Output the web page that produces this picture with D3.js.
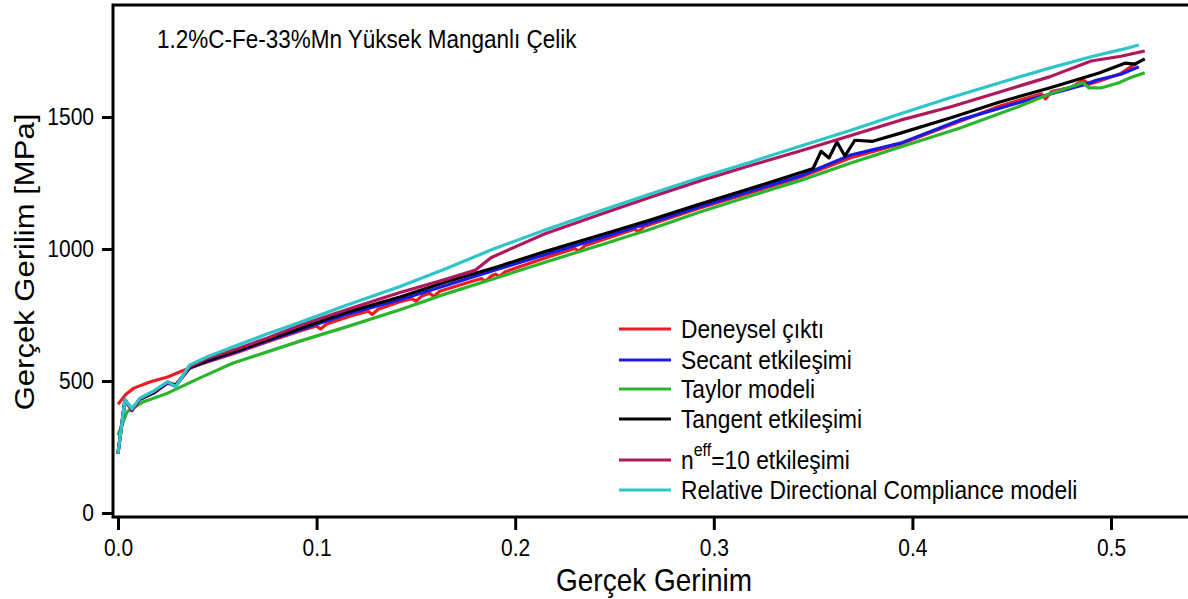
<!DOCTYPE html>
<meta charset="utf-8">
<style>
    body { margin: 0; background: #fff; }
    svg { display: block; }
    text { font-family: "Liberation Sans", Arial, sans-serif; fill: #000; }
    .axis path { display: none; }
    .axis line { stroke: #000; stroke-width: 3; }
    .axis text { font-size: 21px; }
    .frame { fill: none; stroke: #000; stroke-width: 3; }
    .curve { fill: none; stroke-width: 3.2; stroke-linejoin: round; }
</style>
<svg id="chart" width="1188" height="599"></svg>
<script src="https://cdnjs.cloudflare.com/ajax/libs/d3/7.8.5/d3.min.js"></script>
<script>

    var xTicks = [0, 0.1, 0.2, 0.3, 0.4, 0.5];
    var yTicks = [0, 500, 1000, 1500];

    var seriesNames = ["Deneysel çıktı", "Secant etkileşimi", "Taylor modeli",
        "Tangent etkileşimi", "neff=10 etkileşimi", "Relative Directional Compliance modeli"];
    var seriesColors = ["#ec1c24", "#1a1ae6", "#2cb52c", "#000000", "#b0185e", "#2ec5c9"];

    // [true strain, true stress MPa]
    var deneysel = [[0, 412], [0.004, 450], [0.008, 473], [0.016, 496], [0.025, 515], [0.031, 534],
        [0.037, 552], [0.045, 572], [0.06, 608], [0.075, 648], [0.092, 690], [0.1, 708], [0.102, 697],
        [0.105, 716], [0.118, 748], [0.126, 764], [0.128, 752], [0.131, 772], [0.142, 800], [0.148, 812],
        [0.15, 802], [0.153, 822], [0.157, 832], [0.159, 820], [0.162, 840], [0.175, 870], [0.183, 888],
        [0.185, 878], [0.188, 898], [0.19, 905], [0.192, 896], [0.195, 914], [0.215, 966], [0.23, 1002],
        [0.232, 992], [0.235, 1012], [0.26, 1075], [0.262, 1066], [0.265, 1085], [0.293, 1155],
        [0.318, 1212], [0.343, 1270], [0.369, 1346], [0.394, 1398], [0.424, 1484], [0.444, 1542],
        [0.465, 1588], [0.467, 1568], [0.47, 1596], [0.48, 1612], [0.486, 1640], [0.489, 1624],
        [0.495, 1638], [0.505, 1665], [0.513, 1705]];

    var secant = [[0, 225], [0.0035, 428], [0.007, 395], [0.011, 430], [0.018, 455], [0.025, 492],
        [0.029, 482], [0.036, 548], [0.045, 575], [0.06, 612], [0.075, 652], [0.092, 695], [0.115, 752],
        [0.142, 808], [0.165, 862], [0.192, 925], [0.215, 978], [0.243, 1042], [0.268, 1100],
        [0.293, 1160], [0.318, 1218], [0.343, 1275], [0.369, 1356], [0.394, 1401], [0.424, 1489],
        [0.453, 1553], [0.486, 1621], [0.493, 1640], [0.505, 1662], [0.514, 1690]];

    var taylor = [[0, 295], [0.0045, 383], [0.0125, 420], [0.025, 454], [0.041, 511], [0.058, 568],
        [0.092, 652], [0.115, 705], [0.142, 770], [0.165, 830], [0.192, 894], [0.215, 950],
        [0.243, 1015], [0.268, 1075], [0.293, 1140], [0.318, 1200], [0.343, 1258], [0.369, 1326],
        [0.394, 1386], [0.424, 1458], [0.453, 1538], [0.47, 1590], [0.486, 1630], [0.489, 1610],
        [0.495, 1610], [0.504, 1630], [0.51, 1650], [0.517, 1668]];

    var tangent = [[0, 225], [0.0035, 430], [0.007, 388], [0.011, 432], [0.018, 455], [0.025, 495],
        [0.029, 485], [0.036, 550], [0.045, 578], [0.06, 615], [0.075, 655], [0.092, 700], [0.115, 760],
        [0.142, 818], [0.165, 875], [0.192, 935], [0.215, 990], [0.243, 1053], [0.268, 1110],
        [0.293, 1170], [0.318, 1228], [0.343, 1288], [0.35, 1305], [0.354, 1370], [0.358, 1345],
        [0.362, 1405], [0.366, 1352], [0.371, 1412], [0.38, 1408], [0.394, 1439], [0.419, 1496],
        [0.444, 1557], [0.469, 1610], [0.494, 1667], [0.507, 1704], [0.512, 1700], [0.517, 1720]];

    var neff10 = [[0, 230], [0.0035, 425], [0.007, 390], [0.011, 432], [0.018, 460], [0.025, 495],
        [0.029, 480], [0.036, 555], [0.045, 585], [0.06, 622], [0.075, 662], [0.092, 712], [0.115, 770],
        [0.142, 835], [0.165, 885], [0.18, 920], [0.188, 968], [0.2, 1008], [0.215, 1058],
        [0.243, 1132], [0.268, 1196], [0.293, 1258], [0.318, 1315], [0.343, 1370], [0.369, 1430],
        [0.394, 1488], [0.419, 1538], [0.444, 1595], [0.469, 1652], [0.49, 1712], [0.505, 1730],
        [0.517, 1750]];

    var rdc = [[0, 225], [0.0035, 430], [0.007, 395], [0.011, 435], [0.018, 462], [0.025, 498],
        [0.029, 478], [0.036, 560], [0.045, 592], [0.06, 635], [0.075, 678], [0.092, 723], [0.115, 787],
        [0.142, 858], [0.165, 925], [0.189, 1000], [0.215, 1072], [0.243, 1145], [0.268, 1208],
        [0.293, 1270], [0.318, 1328], [0.343, 1388], [0.369, 1450], [0.394, 1512], [0.419, 1573],
        [0.444, 1630], [0.469, 1685], [0.49, 1728], [0.505, 1755], [0.514, 1773]];

    var allSeries = [deneysel, secant, taylor, tangent, neff10, rdc];

    // the original lettering is a bit taller than it is wide
    var stretch = 1.15;

    var svg = d3.select("#chart");

    var x = d3.scaleLinear().domain([0, 0.5]).range([118, 1111]);
    var y = d3.scaleLinear().domain([0, 1500]).range([513, 117]);

    var line = d3.line()
        .x(function(d) { return x(d[0]); })
        .y(function(d) { return y(d[1]); });

    svg.append("g").selectAll("path")
        .data(allSeries)
        .enter().append("path")
        .attr("class", "curve")
        .attr("stroke", function(d, i) { return seriesColors[i]; })
        .attr("d", line);

    // frame: left, top and bottom lines run off the right edge
    svg.append("path")
        .attr("class", "frame")
        .attr("d", "M1200,5H113V517H1200");

    var gY = svg.append("g")
        .attr("class", "axis")
        .attr("transform", "translate(113,0)")
        .call(d3.axisLeft(y).tickValues(yTicks).tickSize(11).tickPadding(8).tickFormat(d3.format("d")));
    gY.selectAll("text").attr("transform", "scale(1," + stretch + ")")
        .attr("dy", "0.3em");

    var gX = svg.append("g")
        .attr("class", "axis")
        .attr("transform", "translate(0,517)")
        .call(d3.axisBottom(x).tickValues(xTicks).tickSize(13).tickPadding(6).tickFormat(d3.format(".1f")));
    gX.selectAll("text").attr("transform", "scale(1," + stretch + ")");

    function label(px, py, size, txt, anchor, rot) {
        var g = svg.append("g")
            .attr("transform", "translate(" + px + "," + py + ") scale(1," + stretch + ")" + (rot ? " rotate(" + rot + ")" : ""));
        return g.append("text")
            .attr("text-anchor", anchor || "start")
            .style("font-size", size + "px")
            .text(txt);
    }

    label(157, 48, 22.5, "1.2%C-Fe-33%Mn Yüksek Manganlı Çelik");
    label(34, 262, 27, "Gerçek Gerilim [MPa]", "middle", -90);
    label(654, 591, 28, "Gerçek Gerinim", "middle");

    // legend
    var legendY = [329, 360, 389, 419, 460, 490];
    var legend = svg.append("g").selectAll("g")
        .data(seriesNames)
        .enter().append("g")
        .attr("transform", function(d, i) { return "translate(619," + legendY[i] + ")"; });

    legend.append("line")
        .attr("x2", 52)
        .attr("stroke", function(d, i) { return seriesColors[i]; })
        .attr("stroke-width", 3.2);

    var legendText = legend.append("text")
        .attr("x", 62)
        .attr("dy", "0.36em")
        .attr("transform", "scale(1," + stretch + ")")
        .style("font-size", "22.8px");

    legendText.filter(function(d, i) { return i !== 4; })
        .text(function(d) { return d; });

    var neffText = legendText.filter(function(d, i) { return i === 4; });
    neffText.append("tspan").text("n");
    neffText.append("tspan").attr("dy", "-0.75em").style("font-size", "16px").text("eff");
    neffText.append("tspan").attr("dy", "0.52em").text("=10 etkileşimi");

</script>
